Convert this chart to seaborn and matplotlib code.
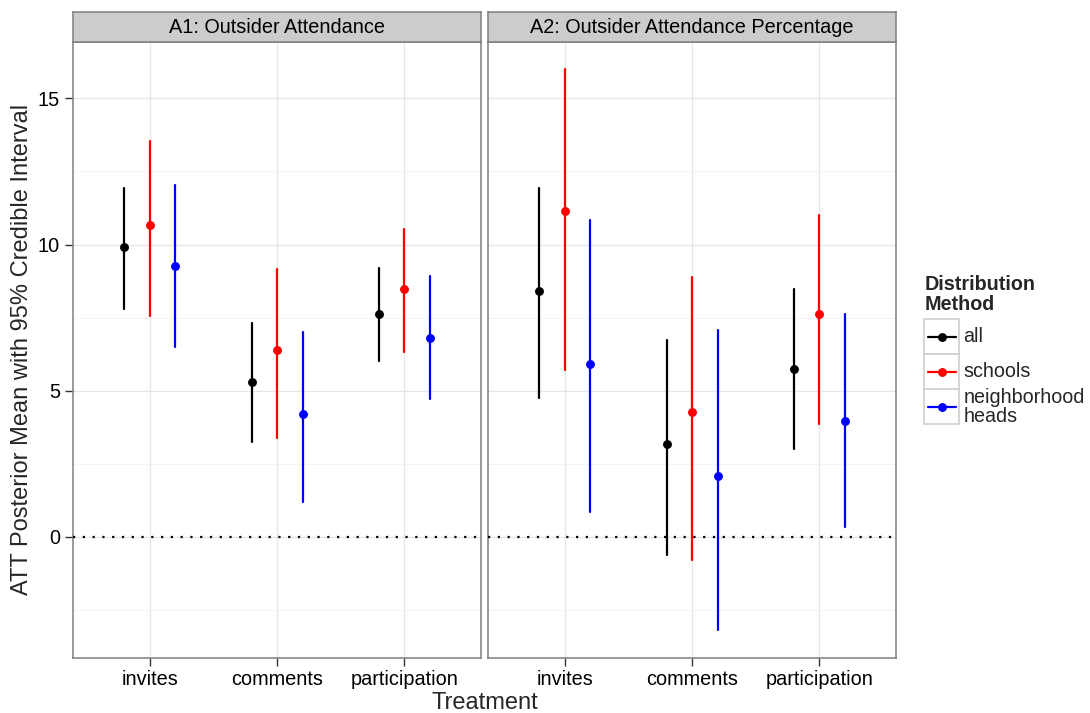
import matplotlib
matplotlib.use("Agg")
import matplotlib.pyplot as plt
from matplotlib.patches import Rectangle
from matplotlib.lines import Line2D
import numpy as np
import pandas as pd
import seaborn as sns

# ---- data -------------------------------------------------------------
treatments = ["invites", "comments", "participation"]
methods = ["all", "schools", "neighborhood heads"]
method_labels = ["all", "schools", "neighborhood\nheads"]
colors = ["#000000", "#FF0000", "#0000FF"]
panel_titles = ["A1: Outsider Attendance", "A2: Outsider Attendance Percentage"]

# rows: all, schools, neighborhood heads ; columns: treatments
a1_mean = [[9.92, 5.30, 7.63], [10.67, 6.39, 8.49], [9.27, 4.20, 6.81]]
a1_lo = [[7.80, 3.25, 6.01], [7.55, 3.39, 6.33], [6.50, 1.18, 4.72]]
a1_hi = [[11.94, 7.32, 9.19], [13.53, 9.15, 10.53], [12.03, 7.02, 8.91]]

a2_mean = [[8.41, 3.18, 5.75], [11.16, 4.28, 7.63], [5.92, 2.09, 3.97]]
a2_lo = [[4.74, -0.62, 2.99], [5.70, -0.79, 3.86], [0.83, -3.18, 0.34]]
a2_hi = [[11.92, 6.72, 8.48], [16.01, 8.89, 11.01], [10.84, 7.07, 7.63]]

y_ticks = [0, 5, 10, 15]
y_minor = [-2.5, 2.5, 7.5, 12.5]


def long_table(mean, lo, hi):
    # three rows per estimate: the median of (lo, mean, hi) is the mean and
    # the 0-100 percentile interval spans lo..hi
    rows = []
    for m, method in enumerate(methods):
        for t, treat in enumerate(treatments):
            for v in (lo[m][t], mean[m][t], hi[m][t]):
                rows.append({"treatment": treat, "method": method, "value": v})
    return pd.DataFrame(rows)


panels = [long_table(a1_mean, a1_lo, a1_hi), long_table(a2_mean, a2_lo, a2_hi)]

# ---- style ------------------------------------------------------------
sns.set_style("white")
plt.rcParams["font.family"] = ["Liberation Sans", "DejaVu Sans"]

W, H = 1090, 713
fig = plt.figure(figsize=(W / 100, H / 100), dpi=100)


def fx(px):
    return px / W


def fy(py):
    return 1 - py / H


panel_top, panel_bot = 41.7, 657.7
panel_lefts = [73.3, 488.3]
panel_w = 407.6
strip_h = 29.4
border = "#7f7f7f"

axes = []
for i, df in enumerate(panels):
    ax = fig.add_axes([fx(panel_lefts[i]), fy(panel_bot), fx(panel_w),
                       (panel_bot - panel_top) / H])
    sns.pointplot(data=df, x="treatment", y="value", hue="method",
                  order=treatments, hue_order=methods, palette=colors,
                  estimator="median", errorbar=("pi", 100), dodge=0.4,
                  linestyle="none", markers="o", linewidth=1.6,
                  markersize=6.4, markeredgewidth=0,
                  err_kws={"linewidth": 1.6}, legend=False, ax=ax)
    ax.axhline(0, color="black", linewidth=1.6, dashes=(1, 3.4), zorder=10)

    ax.set_xlim(-0.6, 2.6)
    ax.set_ylim(-4.14, 16.94)
    ax.set_yticks(y_ticks)
    ax.set_yticks(y_minor, minor=True)
    ax.set_xlabel("")
    ax.set_ylabel("")
    ax.set_axisbelow(True)
    ax.grid(True, which="major", color="#e6e6e6", linewidth=0.9)
    ax.grid(True, which="minor", axis="y", color="#f4f4f4", linewidth=0.7)
    for sp in ax.spines.values():
        sp.set_visible(True)
        sp.set_color(border)
        sp.set_linewidth(1.1)
    ax.tick_params(axis="both", which="major", direction="out", length=5.5,
                   width=1.0, color="#333333", labelsize=14.3,
                   labelcolor="black", pad=3)
    ax.tick_params(axis="y", which="minor", left=False)
    ax.tick_params(axis="x", bottom=True)
    if i == 0:
        ax.tick_params(axis="y", left=True, pad=4)
    else:
        ax.tick_params(axis="y", left=False, labelleft=False)
    axes.append(ax)

    # facet strip
    sax = fig.add_axes([fx(panel_lefts[i]), fy(panel_top), fx(panel_w),
                        strip_h / H])
    sax.set_facecolor("#cccccc")
    sax.set_xticks([])
    sax.set_yticks([])
    for sp in sax.spines.values():
        sp.set_visible(True)
        sp.set_color(border)
        sp.set_linewidth(1.1)
    sax.text(0.5, 0.47, panel_titles[i], ha="center", va="center",
             fontsize=14.3, color="black", transform=sax.transAxes)

# axis titles
fig.text(fx((panel_lefts[0] + panel_lefts[1] + panel_w) / 2), fy(703),
         "Treatment", ha="center", va="center", fontsize=17)
fig.text(fx(22), fy((panel_top + panel_bot) / 2),
         "ATT Posterior Mean with 95% Credible Interval", ha="center",
         va="center", rotation=90, fontsize=17)

# legend
fig.text(fx(925), fy(275), "Distribution\nMethod", ha="left", va="top",
         fontsize=14.2, fontweight="bold", linespacing=1.05)
key_x0, key_w = 924.3, 35.0
key_tops = [319.3, 354.3, 389.3]
for k, (lab, col) in enumerate(zip(method_labels, colors)):
    top = key_tops[k]
    fig.patches.append(Rectangle((fx(key_x0), fy(top + key_w)), fx(key_w),
                                 key_w / H, transform=fig.transFigure,
                                 facecolor="white", edgecolor="#d0d0d0",
                                 linewidth=1.2))
    cy = fy(top + key_w / 2)
    fig.lines.append(Line2D([fx(key_x0 + 3.5), fx(key_x0 + key_w - 3.5)],
                            [cy, cy], transform=fig.transFigure, color=col,
                            linewidth=1.6))
    fig.lines.append(Line2D([fx(key_x0 + key_w / 2)], [cy], marker="o",
                            markersize=6.4, markeredgewidth=0, color=col,
                            transform=fig.transFigure))
    fig.text(fx(963.3), cy, lab, ha="left", va="center", fontsize=14.2,
             linespacing=1.02)

fig.savefig("out.png", dpi=100)
